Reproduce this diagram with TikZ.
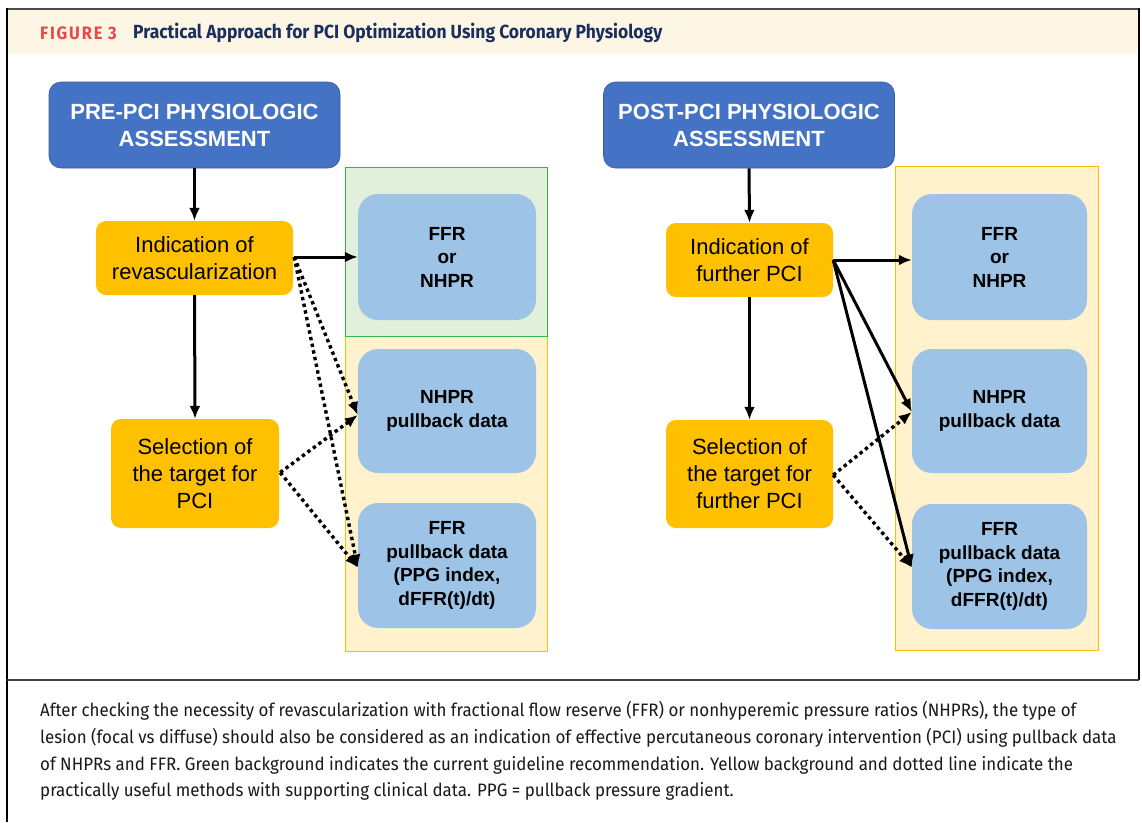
\documentclass[tikz,border=0pt]{standalone}
\usepackage{fontspec}
\setmainfont{Liberation Sans}
\newfontfamily\capfont[FakeStretch=0.94]{Fira Sans}
\newfontfamily\headfont[FakeStretch=0.92]{Fira Sans}
\usetikzlibrary{arrows.meta}
\definecolor{darkblue}{HTML}{4472C4}
\definecolor{lightblue}{HTML}{9DC3E6}
\definecolor{orangebox}{HTML}{FFC000}
\definecolor{greenbg}{HTML}{E2EFDA}
\definecolor{greenline}{HTML}{2DB84D}
\definecolor{yellowbg}{HTML}{FFF2CC}
\definecolor{yellowline}{HTML}{FFC000}
\definecolor{headbg}{HTML}{FEF6E4}
\definecolor{figred}{HTML}{E8474C}
\definecolor{navy}{HTML}{1B2F5E}
\begin{document}
\begin{tikzpicture}[x=1pt,y=-1pt,
  mainbox/.style={rectangle,rounded corners=12pt,fill=darkblue,draw=darkblue!80!black,line width=0.6pt,
    text=white,font=\fontsize{22}{27}\selectfont\bfseries,align=center,minimum width=291pt,minimum height=86pt,inner sep=0pt},
  decbox/.style={rectangle,rounded corners=10pt,fill=orangebox,text=black,font=\fontsize{22}{27}\selectfont,
    align=center,inner sep=0pt},
  datbox/.style={rectangle,rounded corners=20pt,fill=lightblue,text=black,font=\fontsize{19}{23.5}\selectfont\bfseries,
    align=center,inner sep=0pt},
  solidarrow/.style={line width=3pt,-{Latex[length=13pt,width=11pt]}},
  dotarrow/.style={line width=3.4pt,dash pattern=on 3.4pt off 3.4pt,-{Latex[length=13pt,width=11pt]}},
  captxt/.style={anchor=west,inner sep=0pt,font=\capfont\fontsize{18}{22}\selectfont,text=black!90}
]
\path[use as bounding box,fill=white] (0,0) rectangle (1142,822);
% header
\fill[headbg] (7,9) rectangle (1139,54);
\node[anchor=west,inner sep=0pt,text=figred,font=\headfont\fontsize{18}{21}\selectfont\bfseries\addfontfeatures{LetterSpace=10}] (fig) at (40,33) {FIGURE 3};
\node[anchor=west,inner sep=0pt,text=navy,font=\headfont\fontsize{19}{22}\selectfont\bfseries] (title) at (133,33) {Practical Approach for PCI Optimization Using Coronary Physiology};
% frame
\draw[line width=2pt,black!70] (7,9) -- (1139,9);
\draw[line width=2.5pt,black] (7,8) -- (7,822);
\draw[line width=2pt,black] (1139,8) -- (1139,680);
\draw[line width=2pt,black!75] (7,680) -- (1139,680);
% backgrounds
\draw[fill=yellowbg,draw=yellowline,line width=1pt] (345,336) rectangle (547,651);
\draw[fill=greenbg,draw=greenline,line width=1pt] (345,167) rectangle (547,336);
\draw[fill=yellowbg,draw=yellowline,line width=1pt] (895,166) rectangle (1098,650);
% main boxes
\node[mainbox] (pre) at (194.5,125) {PRE-PCI PHYSIOLOGIC\\ASSESSMENT};
\node[mainbox] (post) at (749,125) {POST-PCI PHYSIOLOGIC\\ASSESSMENT};
% decision boxes
\node[decbox,minimum width=197pt,minimum height=74pt] (ind1) at (194.5,258) {Indication of\\revascularization};
\node[decbox,minimum width=168pt,minimum height=109pt] (sel1) at (195,473.5) {Selection of\\the target for\\PCI};
\node[decbox,minimum width=167pt,minimum height=74pt] (ind2) at (749.5,260) {Indication of\\further PCI};
\node[decbox,minimum width=167pt,minimum height=108pt] (sel2) at (749.5,474) {Selection of\\the target for\\further PCI};
% data boxes
\node[datbox,minimum width=178pt,minimum height=126pt] (lb1) at (447,257) {FFR\\or\\NHPR};
\node[datbox,minimum width=178pt,minimum height=124pt] (lb2) at (447,411) {NHPR\\pullback data};
\node[datbox,minimum width=178pt,minimum height=125pt] (lb3) at (447,565.5) {FFR\\pullback data\\(PPG index,\\dFFR(t)/dt)};
\node[datbox,minimum width=175pt,minimum height=126pt] (rb1) at (999.5,257) {FFR\\or\\NHPR};
\node[datbox,minimum width=175pt,minimum height=124pt] (rb2) at (999.5,411) {NHPR\\pullback data};
\node[datbox,minimum width=175pt,minimum height=125pt] (rb3) at (999.5,566.5) {FFR\\pullback data\\(PPG index,\\dFFR(t)/dt)};
% anchor coordinates
\coordinate (i1s) at ([xshift=1pt,yshift=1pt]ind1.east);
\coordinate (s1s) at ([xshift=1pt,yshift=1pt]sel1.east);
\coordinate (i2s) at ([xshift=0pt,yshift=0pt]ind2.east);
\coordinate (s2s) at ([xshift=0pt,yshift=-1pt]sel2.east);
% vertical arrows
\draw[solidarrow] (pre.south) -- (ind1.north);
\draw[solidarrow] (ind1.south) -- (sel1.north);
\draw[solidarrow] (post.south) -- (ind2.north);
\draw[solidarrow] (ind2.south) -- (sel2.north);
% left connectors
\draw[solidarrow] (i1s) -- (lb1.west |- i1s);
\draw[dotarrow] (i1s) -- ([yshift=-4pt]lb2.west);
\draw[dotarrow] (i1s) -- ([yshift=-2pt]lb3.west);
\draw[dotarrow] (s1s) -- ([yshift=-4pt]lb2.west);
\draw[dotarrow] (s1s) -- ([yshift=-2pt]lb3.west);
% right connectors
\draw[solidarrow] (i2s) -- (rb1.west |- i2s);
\draw[solidarrow] (i2s) -- ([yshift=-1pt]rb2.west);
\draw[solidarrow] (i2s) -- ([yshift=-1pt]rb3.west);
\draw[dotarrow] (s2s) -- ([yshift=-1pt]rb2.west);
\draw[dotarrow] (s2s) -- ([yshift=-1pt]rb3.west);
% caption
\node[captxt] (c1) at (40,711) {After checking the necessity of revascularization with fractional flow reserve (FFR) or nonhyperemic pressure ratios (NHPRs), the type of};
\node[captxt] (c2) at (40,738) {lesion (focal vs diffuse) should also be considered as an indication of effective percutaneous coronary intervention (PCI) using pullback data};
\node[captxt] (c3) at (40,765) {of NHPRs and FFR. Green background indicates the current guideline recommendation. Yellow background and dotted line indicate the};
\node[captxt] (c4) at (40,791) {practically useful methods with supporting clinical data. PPG = pullback pressure gradient.};
\end{tikzpicture}
\end{document}
